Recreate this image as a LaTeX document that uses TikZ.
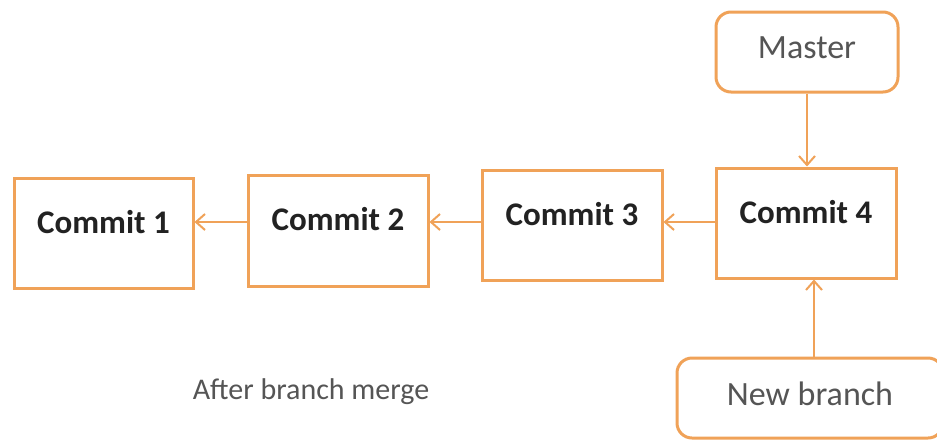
\documentclass[tikz,border=0pt]{standalone}
\usepackage{fontspec}
\setmainfont{Carlito}
\usetikzlibrary{arrows.meta}
\definecolor{gitorange}{RGB}{240,162,88}
\definecolor{darktext}{RGB}{34,34,34}
\definecolor{graytext}{RGB}{85,85,85}
\begin{document}
\begin{tikzpicture}[x=1pt,y=-1pt,
  commitbox/.style={draw=gitorange, line width=3pt, fill=white, inner sep=0pt,
    font=\fontsize{33}{36}\selectfont\bfseries, text=darktext,
    text height=20pt, text depth=20pt},
  refbox/.style={draw=gitorange, line width=3pt, fill=white, inner sep=0pt,
    rounded corners=15pt, font=\fontsize{34}{38}\selectfont, text=graytext},
  arr/.style={draw=gitorange, line width=2pt, -{Straight Barb[length=9pt,width=16pt,line width=2pt]}}
]
\useasboundingbox (0,0) rectangle (937,440);
\fill[white] (0,0) rectangle (937,440);

\node[commitbox, minimum width=179pt, minimum height=110pt] (c1) at (103.5,233) {Commit 1};
\node[commitbox, minimum width=180pt, minimum height=111pt] (c2) at (338,230.5) {Commit 2};
\node[commitbox, minimum width=180pt, minimum height=110pt] (c3) at (572,225) {Commit 3};
\node[commitbox, minimum width=180pt, minimum height=110pt] (c4) at (806,223) {Commit 4};

\node[refbox, minimum width=182pt, minimum height=80pt, text height=20pt, text depth=8pt] (master) at (807,52) {Master};
\node[refbox, minimum width=266pt, minimum height=80pt, text height=20pt, text depth=6pt] (nb) at (810,398) {New branch};

\node[font=\fontsize{30}{34}\selectfont, text=graytext, inner sep=0pt] (cap) at (311,392) {After branch merge};

\coordinate (a21) at ([yshift=8.5pt]c2.west);
\coordinate (a32) at ([yshift=3pt]c3.west);
\coordinate (a43) at ([yshift=1pt]c4.west);
\coordinate (anb) at ([xshift=8pt]c4.south);
\draw[arr] (a21) -- (c1.east |- a21);
\draw[arr] (a32) -- (c2.east |- a32);
\draw[arr] (a43) -- (c3.east |- a43);
\draw[arr] (master.south) -- (master.south |- c4.north);
\draw[arr] (anb |- nb.north) -- (anb);
\end{tikzpicture}
\end{document}
